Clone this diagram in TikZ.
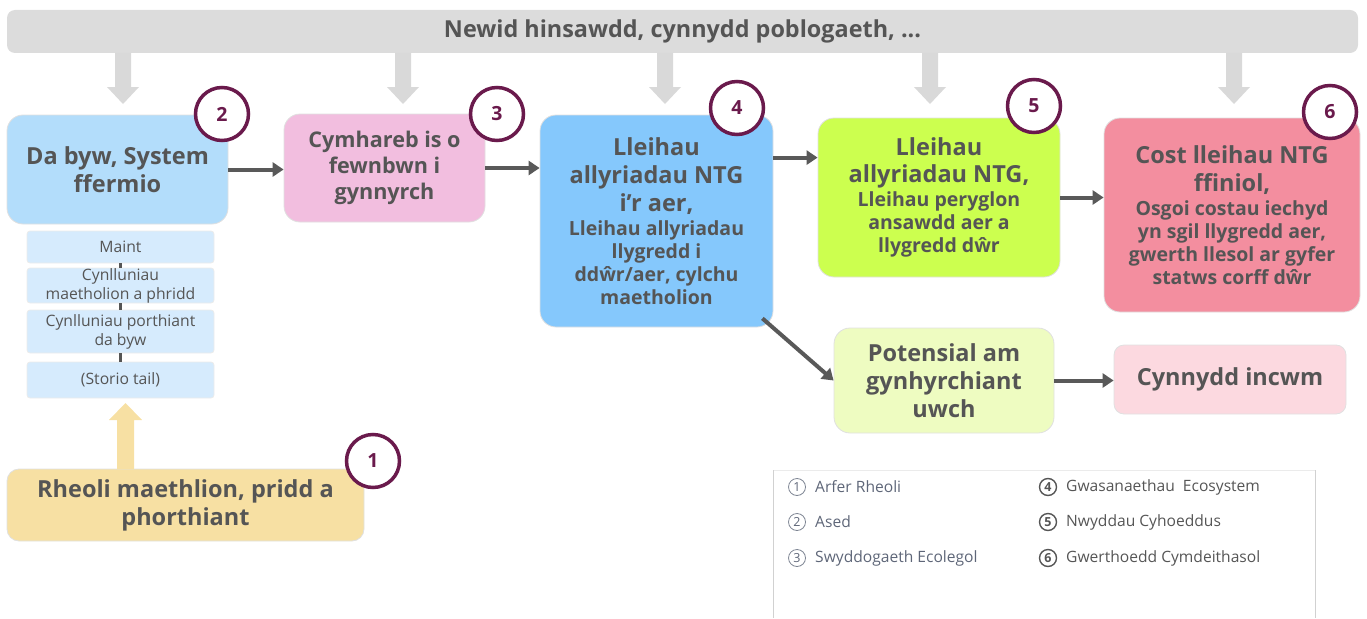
\documentclass[tikz,border=0pt]{standalone}
\usepackage{fontspec}
\setmainfont{Open Sans}
\usetikzlibrary{arrows.meta,calc}
\definecolor{txt}{HTML}{555555}
\definecolor{arrc}{HTML}{595959}
\definecolor{numc}{HTML}{6A1A4C}
\definecolor{legt}{HTML}{5E6678}
\definecolor{cTop}{HTML}{DCDCDC}
\definecolor{cGA}{HTML}{D9D9D9}
\definecolor{cB2}{HTML}{B3DDFB}
\definecolor{cB3}{HTML}{F2BEDF}
\definecolor{cB4}{HTML}{85C8FC}
\definecolor{cB5}{HTML}{CCFF4F}
\definecolor{cB6}{HTML}{F38E9F}
\definecolor{cPot}{HTML}{EEFCC1}
\definecolor{cInc}{HTML}{FCD9E0}
\definecolor{cB1}{HTML}{F7E0A3}
\definecolor{cSub}{HTML}{D6EBFD}
\newcommand\fsA{\fontsize{23.5}{28}\selectfont}
\newcommand\fsB{\fontsize{19.5}{23}\selectfont}
\newcommand\fsC{\fontsize{21.6}{26}\selectfont}
\begin{document}
\begin{tikzpicture}[x=1pt,y=-1pt,
  box/.style={rounded corners=16pt, draw=black!12, line width=0.8pt, text=txt, align=center, inner sep=0pt, font=\bfseries\fsA},
  sub/.style={rounded corners=3pt, draw=black!8, line width=0.8pt, fill=cSub, text=txt, align=center, inner sep=0pt, minimum width=187pt, font=\fontsize{15.7}{19}\selectfont},
  num/.style={circle, draw=numc, line width=3.5pt, fill=white, minimum size=53pt, inner sep=0pt, text=numc, font=\bfseries\fontsize{19.5}{19.5}\selectfont},
  conn/.style={line width=4pt, draw=arrc, -{Triangle[length=11pt,width=14pt]}},
  link/.style={line width=3.5pt, draw=txt},
  legc/.style={circle, draw=legt!80, line width=0.8pt, minimum size=17pt, inner sep=0pt, text=legt, font=\fontsize{12.5}{12.5}\selectfont},
  legcb/.style={legc, line width=1.4pt, font=\bfseries\fontsize{12.5}{12.5}\selectfont, draw=txt, text=txt},
  leg/.style={anchor=west, text=legt, inner sep=0pt, font=\fontsize{15.6}{19}\selectfont},
  legd/.style={leg, text=txt}
]
\useasboundingbox (0,0) rectangle (1367,618);

% top bar
\node[rounded corners=8pt, fill=cTop, minimum width=1351pt, minimum height=43pt, inner sep=0pt, text=txt, font=\bfseries\fontsize{23.4}{28}\selectfont] (top) at (682.5,31.5) {Newid hinsawdd, cynnydd poblogaeth, ...};

% gray block arrows
\foreach \cx in {123,403,665,930,1234}{
  \fill[cGA] (\cx-8,53) -- (\cx+8,53) -- (\cx+8,87) -- (\cx+16,87) -- (\cx,104) -- (\cx-16,87) -- (\cx-8,87) -- cycle;
}

% main boxes
\node[box, fill=cB2, minimum width=221pt, minimum height=109pt] (b2) at (117.5,169.5) {Da byw, System\\ffermio};
\node[box, fill=cB3, minimum width=201pt, minimum height=108pt, font=\bfseries\fsC] (b3) at (384.5,168) {Cymhareb is o\\fewnbwn i\\gynnyrch};
\node[box, fill=cB4, minimum width=233pt, minimum height=212pt] (b4) at (656.5,221) {Lleihau\\allyriadau NTG\\i’r aer,\\[-4pt]\fsB Lleihau allyriadau\\[-5pt]\fsB llygredd i\\[-5pt]\fsB ddŵr/aer, cylchu\\[-5pt]\fsB maetholion};
\node[box, fill=cB5, minimum width=242pt, minimum height=159pt] (b5) at (939,197.5) {Lleihau\\[-1pt]allyriadau NTG,\\[-4pt]\fsB Lleihau peryglon\\[-5pt]\fsB ansawdd aer a\\[-5pt]\fsB llygredd dŵr};
\node[box, fill=cB6, minimum width=256pt, minimum height=194pt] (b6) at (1232,215) {Cost lleihau NTG\\ffiniol,\\[-4pt]\fsB Osgoi costau iechyd\\[-5pt]\fsB yn sgil llygredd aer,\\[-5pt]\fsB gwerth llesol ar gyfer\\[-5pt]\fsB statws corff dŵr};
\node[box, fill=cPot, minimum width=220pt, minimum height=105pt] (pot) at (944,380.5) {Potensial am\\gynhyrchiant\\uwch};
\node[box, fill=cInc, minimum width=232pt, minimum height=69pt, rounded corners=10pt] (inc) at (1230,379.5) {Cynnydd incwm};
\node[box, fill=cB1, minimum width=357pt, minimum height=72pt, rounded corners=12pt] (b1) at (185.5,505) {Rheoli maethlion, pridd a\\phorthiant};

% sub boxes
\node[sub, minimum height=32pt] (s1) at (120.5,247) {Maint};
\node[sub, minimum height=35pt] (s2) at (120.5,285.5) {Cynlluniau\\maetholion a phridd};
\node[sub, minimum height=43pt] (s3) at (120.5,331.5) {Cynlluniau porthiant\\da byw};
\node[sub, minimum height=36pt] (s4) at (120.5,380) {(Storio tail)};
\draw[link] (s1.south) -- (s2.north);
\draw[link] (s2.south) -- (s3.north);
\draw[link] (s3.south) -- (s4.north);

% yellow up arrow
\fill[cB1] (117,469) -- (134,469) -- (134,420) -- (142,420) -- (125.5,403) -- (109,420) -- (117,420) -- cycle;

% connectors
\draw[conn] (b2.east) -- (b2.east -| b3.west);
\draw[conn] (b3.east) -- (b3.east -| b4.west);
\draw[conn] ([yshift=-43pt]b4.north east) -- ([yshift=-43pt]b4.north east -| b5.west);
\draw[conn] (b5.east) -- (b5.east -| b6.west);
\draw[conn] ([xshift=-11pt,yshift=9pt]b4.south east) -- (pot.west);
\draw[conn] (pot.east) -- (pot.east -| inc.west);

% number circles
\node[num] (n1) at (373,461) {1};
\node[num] (n2) at (222,114) {2};
\node[num] (n3) at (497,114) {3};
\node[num] (n4) at (737,108) {4};
\node[num] (n5) at (1034,106) {5};
\node[num] (n6) at (1330,112) {6};

% legend frame
\draw[black!8, line width=0.8pt] (773,470) -- (1315,470);
\draw[black!18, line width=0.8pt] (773,470) -- (773,618);
\draw[black!18, line width=0.8pt] (1315,470) -- (1315,618);

\node[legc] (l1) at (797,487) {1};
\node[legc] (l2) at (797,522) {2};
\node[legc] (l3) at (797,558) {3};
\node[legcb] (l4) at (1048,487) {4};
\node[legcb] (l5) at (1048,522) {5};
\node[legcb] (l6) at (1048,558) {6};
\node[leg] (t1) at (815,487) {Arfer Rheoli};
\node[leg] (t2) at (815,522) {Ased};
\node[leg] (t3) at (815,558) {Swyddogaeth Ecolegol};
\node[legd] (t4) at (1066,487) {Gwasanaethau\ \ Ecosystem};
\node[legd] (t5) at (1066,522) {Nwyddau Cyhoeddus};
\node[legd] (t6) at (1066,558) {Gwerthoedd Cymdeithasol};
\end{tikzpicture}
\end{document}
